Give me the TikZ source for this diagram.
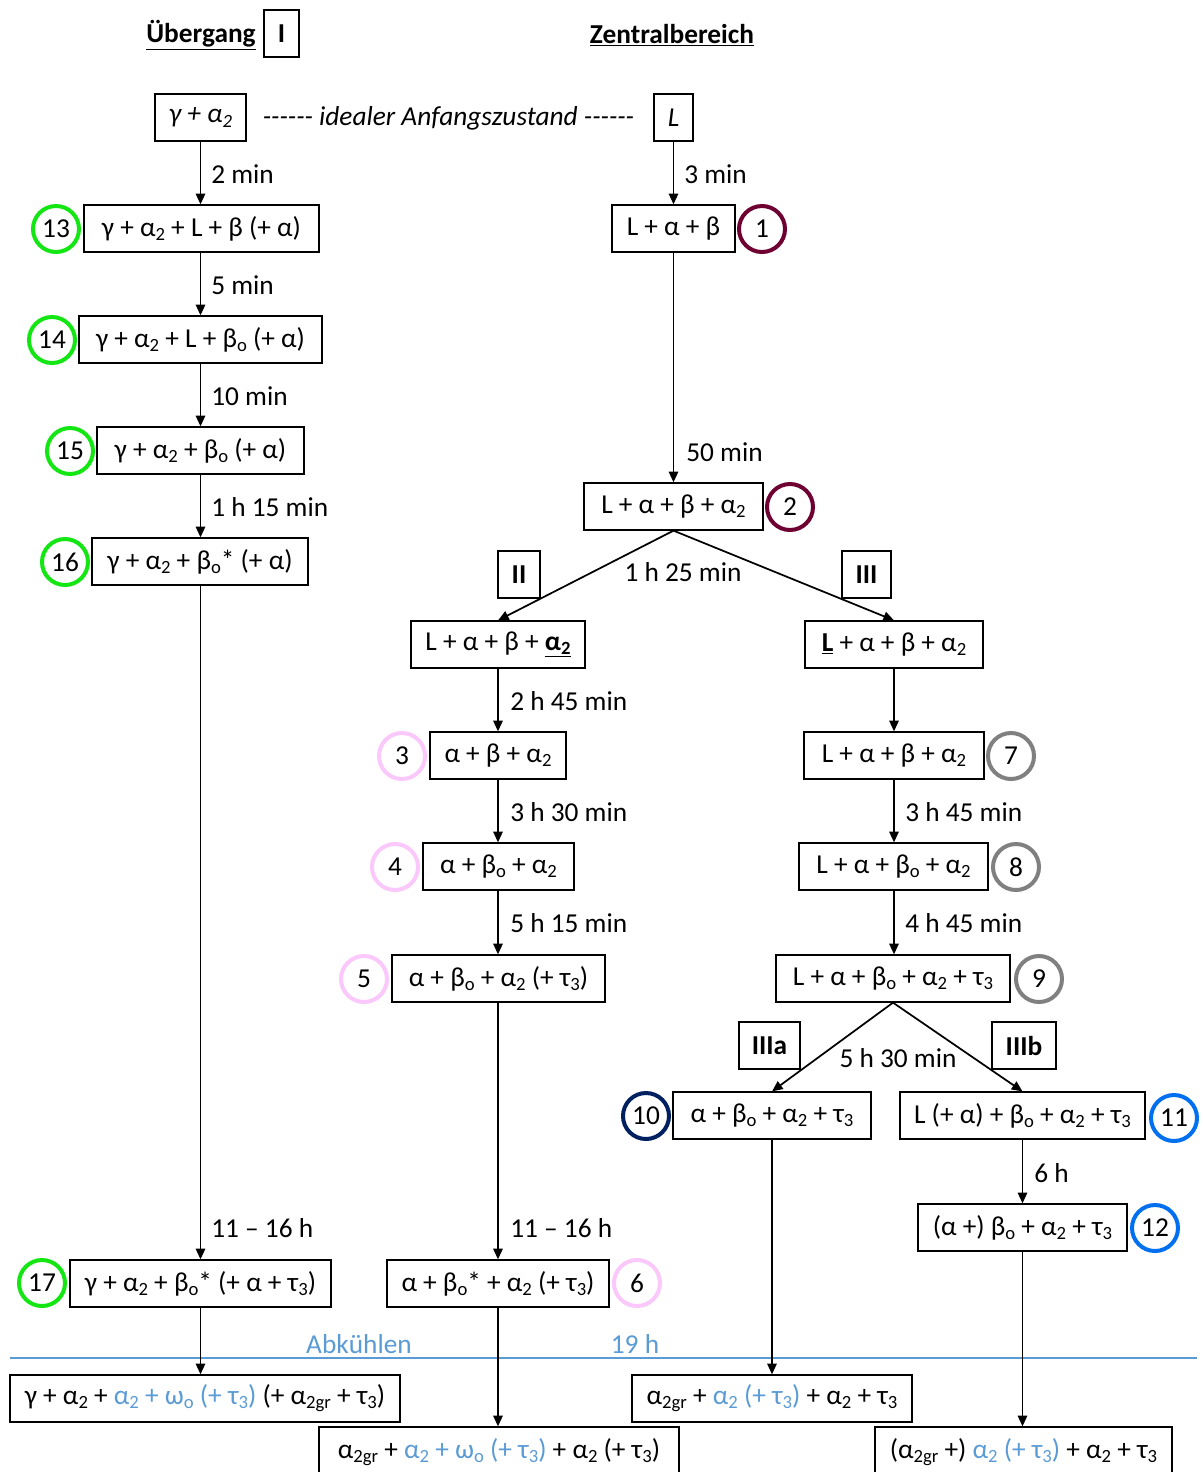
\documentclass[tikz,border=0pt]{standalone}
\usepackage{fontspec}
\setmainfont{Carlito}
\usetikzlibrary{arrows.meta}
\definecolor{grn}{RGB}{20,230,20}
\definecolor{mar}{RGB}{110,0,50}
\definecolor{pnk}{RGB}{250,200,250}
\definecolor{gry}{RGB}{128,128,128}
\definecolor{nav}{RGB}{0,32,96}
\definecolor{blu}{RGB}{0,112,240}
\definecolor{lbl}{RGB}{91,155,213}
\newcommand\sbs[1]{\raisebox{-0.32ex}{\fontsize{14pt}{15pt}\selectfont #1}}
\newcommand\hsix{-\kern0pt-\kern0pt-\kern0pt-\kern0pt-\kern0pt-}
\begin{document}
\begin{tikzpicture}[x=0.75pt,y=-0.75pt,
  font=\fontsize{20.5pt}{24pt}\selectfont,
  bx/.style={draw,line width=0.95pt,minimum height=35.25pt,inner sep=0pt,minimum width=#1*0.75pt},
  cir/.style={draw=#1,circle,line width=3pt,minimum size=34.5pt,inner sep=0pt},
  arr/.style={line width=1.3pt,-{Triangle[width=7pt,length=8pt]}},
  lab/.style={anchor=west,inner sep=0pt},
  hd/.style={font=\fontsize{20.5pt}{24pt}\selectfont\bfseries}]
\useasboundingbox (0,0) rectangle (1203,1472);
\clip (0,0) rectangle (1203,1472);
% headers
\node[hd] (hUe) at (201,35) {\underline{Übergang}};
\node[bx=35,hd] (hI) at (281.5,33.5) {I};
\node[hd] (hZ) at (672,35) {\underline{Zentralbereich}};
% start
\node[bx=91,font=\fontsize{20.5pt}{24pt}\selectfont\itshape] (s0) at (200.5,117.5) {γ + α\sbs{2}};
\node[font=\fontsize{20.5pt}{24pt}\selectfont\itshape,inner sep=0pt] (ideal) at (448.5,118) {\hsix{} idealer Anfangszustand \hsix};
\node[bx=39,font=\fontsize{20.5pt}{24pt}\selectfont\itshape] (sL) at (673.5,117.5) {L};
% left column
\node[bx=235] (n13) at (201.5,228.5) {γ + α\sbs{2} + L + β (+ α)};
\node[bx=243] (n14) at (200.5,339.5) {γ + α\sbs{2} + L + β\sbs{o} (+ α)};
\node[bx=207] (n15) at (200.5,450.5) {γ + α\sbs{2} + β\sbs{o} (+ α)};
\node[bx=216] (n16) at (200,561.5) {γ + α\sbs{2} + β\sbs{o}* (+ α)};
\node[bx=261] (n17) at (200.5,1283.5) {γ + α\sbs{2} + β\sbs{o}* (+ α + τ\sbs{3})};
\node[bx=390] (e1) at (205,1398.5) {γ + α\sbs{2} + \textcolor{lbl}{α\sbs{2} + ω\sbs{o} (+ τ\sbs{3})} (+ α\sbs{2gr} + τ\sbs{3})};
\node[cir=grn] (c13) at (56,229) {13};
\node[cir=grn] (c14) at (52,340) {14};
\node[cir=grn] (c15) at (70,451) {15};
\node[cir=grn] (c16) at (65,562) {16};
\node[cir=grn] (c17) at (42,1283) {17};
% center column
\node[bx=123] (n1) at (673.5,228.5) {L + α + β};
\node[bx=179] (n2) at (673.5,506.5) {L + α + β + α\sbs{2}};
\node[cir=mar] (c1) at (762,229) {1};
\node[cir=mar] (c2) at (790,507) {2};
\node[bx=42,hd] (hII) at (519,574.5) {II};
\node[bx=49,hd] (hIII) at (866.5,574.5) {III};
\node[bx=174] (n2a) at (498,644.5) {L + α + β + \underline{\textbf{α\sbs{2}}}};
\node[bx=136] (n3) at (498,755.5) {α + β + α\sbs{2}};
\node[bx=151] (n4) at (498.5,866.5) {α + β\sbs{o} + α\sbs{2}};
\node[bx=213] (n5) at (498.5,978.5) {α + β\sbs{o} + α\sbs{2} (+ τ\sbs{3})};
\node[bx=222] (n6) at (498,1283.5) {α + β\sbs{o}* + α\sbs{2} (+ τ\sbs{3})};
\node[bx=360,minimum height=37.5pt] (e2) at (499,1452) {α\sbs{2gr} + \textcolor{lbl}{α\sbs{2} + ω\sbs{o} (+ τ\sbs{3})} + α\sbs{2} (+ τ\sbs{3})};
\node[cir=pnk] (c3) at (402,756) {3};
\node[cir=pnk] (c4) at (395,867) {4};
\node[cir=pnk] (c5) at (364,979) {5};
\node[cir=pnk] (c6) at (637,1283) {6};
% right column
\node[bx=178] (n2b) at (894,644.5) {\underline{\textbf{L}} + α + β + α\sbs{2}};
\node[bx=180] (n7) at (894,755.5) {L + α + β + α\sbs{2}};
\node[bx=189] (n8) at (893.5,866.5) {L + α + β\sbs{o} + α\sbs{2}};
\node[bx=234] (n9) at (893,978.5) {L + α + β\sbs{o} + α\sbs{2} + τ\sbs{3}};
\node[cir=gry] (c7) at (1011,756) {7};
\node[cir=gry] (c8) at (1016,867) {8};
\node[cir=gry] (c9) at (1039,979) {9};
\node[bx=61,hd] (hIIIa) at (769.5,1045.5) {IIIa};
\node[bx=64,hd] (hIIIb) at (1024,1045.5) {IIIb};
\node[bx=198] (n10) at (772,1115.5) {α + β\sbs{o} + α\sbs{2} + τ\sbs{3}};
\node[bx=245] (n11) at (1022.5,1115.5) {L (+ α) + β\sbs{o} + α\sbs{2} + τ\sbs{3}};
\node[bx=209] (n12) at (1022.5,1227.5) {(α +) β\sbs{o} + α\sbs{2} + τ\sbs{3}};
\node[cir=nav] (c10) at (646,1116) {10};
\node[cir=blu] (c11) at (1174,1118) {11};
\node[cir=blu] (c12) at (1155,1228) {12};
\node[bx=280] (e3) at (772,1398.5) {α\sbs{2gr} + \textcolor{lbl}{α\sbs{2} (+ τ\sbs{3})} + α\sbs{2} + τ\sbs{3}};
\node[bx=297,minimum height=37.5pt] (e4) at (1023.5,1452) {(α\sbs{2gr} +) \textcolor{lbl}{α\sbs{2} (+ τ\sbs{3})} + α\sbs{2} + τ\sbs{3}};
% cooling line
\coordinate (cl0) at (10,1358);
\coordinate (cl1) at (1197,1358);
\draw[lbl,line width=0.8pt] (cl0) -- (cl1);
\node (abk) at (359,1344) {\textcolor{lbl}{Abkühlen}};
\node (t19) at (635,1344) {\textcolor{lbl}{19 h}};
% arrows left
\draw[arr] (s0.south) -- (n13.north -| s0.south);
\draw[arr] (n13.south -| s0.south) -- (n14.north -| s0.south);
\draw[arr] (n14.south -| s0.south) -- (n15.north -| s0.south);
\draw[arr] (n15.south -| s0.south) -- (n16.north -| s0.south);
\draw[arr] (n16.south -| s0.south) -- (n17.north -| s0.south);
\draw[arr] (n17.south -| s0.south) -- (e1.north -| s0.south);
\node[lab] (l1) at (211,174) {2 min};
\node[lab] (l2) at (211,285) {5 min};
\node[lab] (l3) at (211,396) {10 min};
\node[lab] (l4) at (211,507) {1 h 15 min};
\node[lab] (l5) at (211,1228) {11 – 16 h};
% arrows center
\draw[arr] (sL.south) -- (n1.north -| sL.south);
\draw[arr] (n1.south -| sL.south) -- (n2.north -| sL.south);
\node[lab] (l6) at (684,174) {3 min};
\node[lab] (l7) at (686,452) {50 min};
\draw[arr] (n2.south) -- (n2a.north);
\draw[arr] (n2.south) -- (n2b.north);
\node (l8) at (683,572) {1 h 25 min};
\draw[arr] (n2a.south) -- (n3.north -| n2a.south);
\draw[arr] (n3.south -| n2a.south) -- (n4.north -| n2a.south);
\draw[arr] (n4.south -| n2a.south) -- (n5.north -| n2a.south);
\draw[arr] (n5.south -| n2a.south) -- (n6.north -| n2a.south);
\draw[arr] (n6.south -| n2a.south) -- (e2.north -| n2a.south);
\node[lab] (l9) at (510,701) {2 h 45 min};
\node[lab] (l10) at (510,812) {3 h 30 min};
\node[lab] (l11) at (510,923) {5 h 15 min};
\node[lab] (l12) at (510,1228) {11 – 16 h};
% arrows right
\draw[arr] (n2b.south) -- (n7.north -| n2b.south);
\draw[arr] (n7.south -| n2b.south) -- (n8.north -| n2b.south);
\draw[arr] (n8.south -| n2b.south) -- (n9.north -| n2b.south);
\node[lab] (l13) at (905,812) {3 h 45 min};
\node[lab] (l14) at (905,923) {4 h 45 min};
\draw[arr] (n9.south) -- (n10.north);
\draw[arr] (n9.south) -- (n11.north);
\node (l15) at (898,1058) {5 h 30 min};
\draw[arr] (n10.south) -- (e3.north);
\draw[arr] (n11.south) -- (n12.north -| n11.south);
\node[lab] (l16) at (1034,1173) {6 h};
\draw[arr] (n12.south) -- (e4.north -| n12.south);
\end{tikzpicture}
\end{document}
